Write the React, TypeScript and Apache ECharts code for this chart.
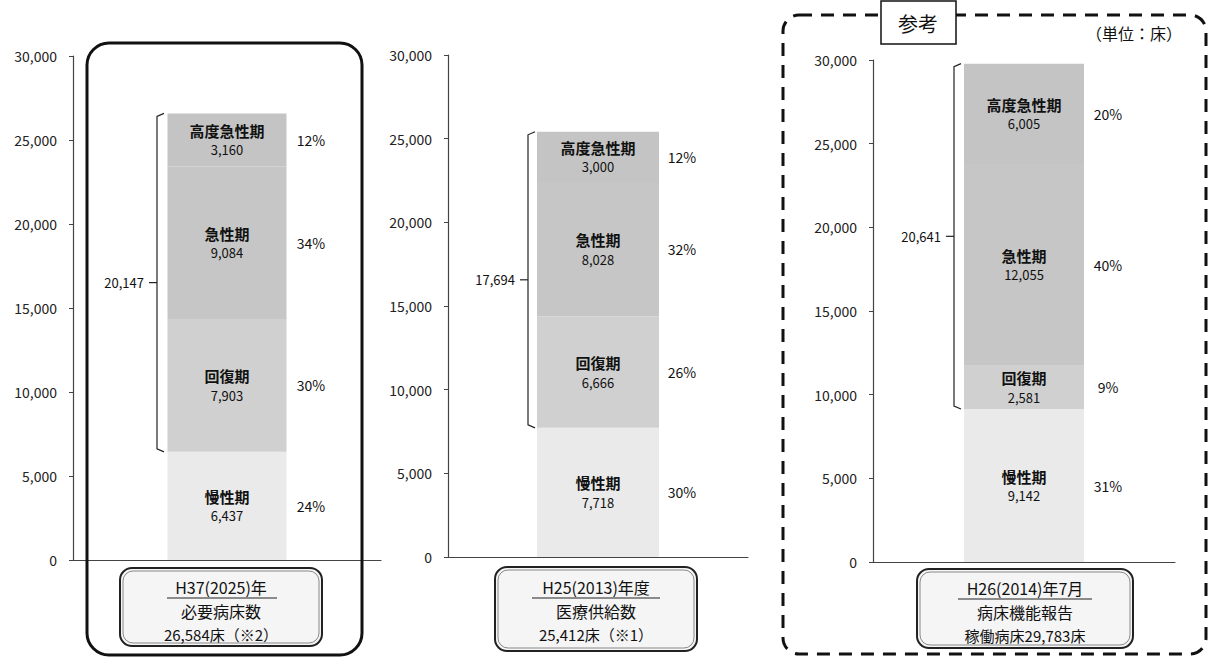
import React, { useEffect, useRef } from "react";
import * as echarts from "echarts";

// ---- data ----
const panelNames = ["H37(2025)年", "H25(2013)年度", "H26(2014)年7月"];
const segmentNames = ["慢性期", "回復期", "急性期", "高度急性期"];
const chronic = [6437, 7718, 9142];
const recovery = [7903, 6666, 2581];
const acute = [9084, 8028, 12055];
const highAcute = [3160, 3000, 6005];
const chronicPct = ["24%", "30%", "31%"];
const recoveryPct = ["30%", "26%", "9%"];
const acutePct = ["34%", "32%", "40%"];
const highAcutePct = ["12%", "12%", "20%"];
const bracketTotals = [20147, 17694, 20641];
const boxLine2 = ["必要病床数", "医療供給数", "病床機能報告"];
const boxLine3 = ["26,584床（※2）", "25,412床（※1）", "稼働病床29,783床"];
const yTicks = [0, 5000, 10000, 15000, 20000, 25000, 30000];

const FONT = '"Noto Sans CJK JP", "Noto Sans", sans-serif';
const fmt = (v: number) => v.toLocaleString("en-US");

const segDefs = [
  { name: segmentNames[0], values: chronic, pct: chronicPct, color: "#eaeaea" },
  { name: segmentNames[1], values: recovery, pct: recoveryPct, color: "#d0d0d0" },
  { name: segmentNames[2], values: acute, pct: acutePct, color: "#c6c6c6" },
  { name: segmentNames[3], values: highAcute, pct: highAcutePct, color: "#c4c4c4" },
];

const grids = [
  { left: 73, top: 56, width: 308, height: 504 },
  { left: 448, top: 55, width: 300, height: 502 },
  { left: 873, top: 60, width: 302, height: 502 },
];
const barWidths = [119, 122, 120];
const boxes = [
  { x: 120, y: 568, w: 202, h: 78, cx: 221, ly: [587, 611, 634], ul: [167, 277, 598] },
  { x: 495, y: 567, w: 202, h: 84, cx: 596, ly: [587, 611, 634], ul: [532, 660, 598] },
  { x: 917, y: 569, w: 216, h: 79, cx: 1025, ly: [588, 612, 635], ul: [958, 1092, 599] },
];

function txt(text: string, x: number, y: number, size: number, align = "center", weight: any = "normal") {
  return {
    type: "text",
    x,
    y,
    silent: true,
    z: 20,
    style: {
      text,
      fill: "#111",
      font: `${weight} ${size}px ${FONT}`,
      align,
      verticalAlign: "middle",
      textAlign: align,
      textVerticalAlign: "middle",
    },
  };
}

export default function App() {
  const ref = useRef<HTMLDivElement>(null);
  useEffect(() => {
    if (!ref.current) return;
    const chart = echarts.init(ref.current, undefined, { renderer: "svg" });

    const series: any[] = [];
    for (let i = 0; i < 3; i++) {
      segDefs.forEach((s) => {
        series.push({
          type: "bar",
          name: s.name,
          xAxisIndex: i,
          yAxisIndex: i,
          stack: "s" + i,
          barWidth: barWidths[i],
          data: [s.values[i]],
          itemStyle: { color: s.color },
          label: {
            show: true,
            position: "inside",
            formatter: (p: any) => `{n|${p.seriesName}}\n{v|${fmt(p.value)}}`,
            rich: {
              n: { fontSize: 15, fontWeight: "bold", lineHeight: 20, color: "#111", fontFamily: FONT },
              v: { fontSize: 13, lineHeight: 19, color: "#111", fontFamily: FONT },
            },
          },
        });
      });
      // percentage labels at segment middles
      let cum = 0;
      const mids = segDefs.map((s) => {
        const m = cum + s.values[i] / 2;
        cum += s.values[i];
        return [0, m];
      });
      series.push({
        type: "custom",
        xAxisIndex: i,
        yAxisIndex: i,
        silent: true,
        z: 10,
        data: mids,
        renderItem: (params: any, api: any) => {
          const p = api.coord([0, api.value(1)]);
          const t = segDefs[params.dataIndex].pct[i];
          return {
            type: "text",
            x: p[0] + 84,
            y: p[1],
            style: {
              text: t,
              fill: "#111",
              font: `14px ${FONT}`,
              align: "center",
              verticalAlign: "middle",
              textAlign: "center",
              textVerticalAlign: "middle",
            },
          };
        },
      });
      // bracket
      const total = chronic[i] + recovery[i] + acute[i] + highAcute[i];
      series.push({
        type: "custom",
        xAxisIndex: i,
        yAxisIndex: i,
        silent: true,
        z: 10,
        data: [[0, chronic[i], total]],
        renderItem: (params: any, api: any) => {
          const top = api.coord([0, api.value(2)]);
          const bot = api.coord([0, api.value(1)]);
          const x = top[0] - 70;
          const mid = (top[1] + bot[1]) / 2;
          return {
            type: "group",
            children: [
              {
                type: "polyline",
                shape: { points: [[x + 7, top[1]], [x, top[1] + 3], [x, bot[1] - 3], [x + 7, bot[1]]] },
                style: { stroke: "#222", lineWidth: 1.2, fill: null },
              },
              {
                type: "line",
                shape: { x1: x - 8, y1: mid, x2: x, y2: mid },
                style: { stroke: "#222", lineWidth: 1.2 },
              },
              {
                type: "text",
                x: x - 13,
                y: mid,
                style: {
                  text: fmt(bracketTotals[i]),
                  fill: "#111",
                  font: `13px ${FONT}`,
                  align: "right",
                  verticalAlign: "middle",
                  textAlign: "right",
                  textVerticalAlign: "middle",
                },
              },
            ],
          };
        },
      });
    }

    const graphic: any[] = [];
    // panel 1 big rounded frame
    graphic.push({
      type: "rect",
      shape: { x: 87, y: 43, width: 275, height: 612, r: 22 },
      style: { fill: null, stroke: "#111", lineWidth: 3 },
      silent: true,
      z: 5,
    });
    // panel 3 dashed frame
    graphic.push({
      type: "rect",
      shape: { x: 783, y: 15, width: 423, height: 639, r: 16 },
      style: { fill: null, stroke: "#111", lineWidth: 3, lineDash: [13, 9] },
      silent: true,
      z: 5,
    });
    // 参考 box
    graphic.push({
      type: "rect",
      shape: { x: 881, y: 1, width: 75, height: 43 },
      style: { fill: "#fff", stroke: "#111", lineWidth: 1.5 },
      silent: true,
      z: 15,
    });
    graphic.push(txt("参考", 918, 23, 20));
    graphic.push(txt("（単位：床）", 1134, 33, 16));

    boxes.forEach((b, i) => {
      graphic.push({
        type: "rect",
        shape: { x: b.x, y: b.y, width: b.w, height: b.h, r: 12 },
        style: { fill: "#f5f5f5", stroke: "#222", lineWidth: 2 },
        silent: true,
        z: 12,
      });
      graphic.push({
        type: "rect",
        shape: { x: b.x + 3, y: b.y + 3, width: b.w - 6, height: b.h - 6, r: 10 },
        style: { fill: null, stroke: "#888", lineWidth: 1 },
        silent: true,
        z: 12,
      });
      graphic.push(txt(panelNames[i], b.cx, b.ly[0], 16));
      graphic.push({
        type: "line",
        shape: { x1: b.ul[0], y1: b.ul[2], x2: b.ul[1], y2: b.ul[2] },
        style: { stroke: "#222", lineWidth: 1.2 },
        silent: true,
        z: 20,
      });
      graphic.push(txt(boxLine2[i], b.cx, b.ly[1], 16));
      graphic.push(txt(boxLine3[i], b.cx, b.ly[2], 15));
    });

    chart.setOption({
      animation: false,
      backgroundColor: "#fff",
      grid: grids,
      xAxis: grids.map((_, i) => ({
        type: "category",
        gridIndex: i,
        data: [panelNames[i]],
        axisLine: { show: true, lineStyle: { color: "#444", width: 1.2 } },
        axisTick: { show: false },
        axisLabel: { show: false },
      })),
      yAxis: grids.map((_, i) => ({
        type: "value",
        gridIndex: i,
        min: yTicks[0],
        max: yTicks[yTicks.length - 1],
        interval: yTicks[1] - yTicks[0],
        splitLine: { show: false },
        axisLine: { show: true, lineStyle: { color: "#444", width: 1.2 } },
        axisTick: { show: true, length: 4, lineStyle: { color: "#444" } },
        axisLabel: {
          formatter: (v: number) => fmt(v),
          color: "#222",
          fontSize: 14,
          fontFamily: FONT,
          margin: 16,
        },
      })),
      series,
      graphic,
    });
    return () => chart.dispose();
  }, []);
  return (
    <div
      ref={ref}
      style={{ position: "fixed", left: 0, top: 0, width: 1209, height: 657, background: "#fff" }}
    />
  );
}
